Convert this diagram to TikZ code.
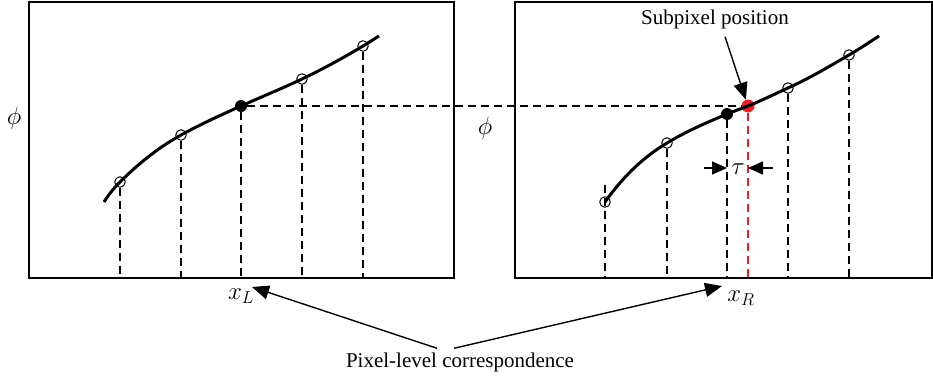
\documentclass[tikz,border=0pt]{standalone}
\usepackage{fontspec}
\setmainfont{Liberation Serif}
\usetikzlibrary{arrows.meta}
\definecolor{subred}{RGB}{232,32,42}

\begin{document}
\begin{tikzpicture}[
        x=1pt, y=-1pt,
        every node/.style={font=\fontsize{21}{25}\selectfont, inner sep=0pt},
        symbol/.style={font=\fontsize{24}{28}\selectfont},
        frame/.style={line width=1.4pt},
        curve/.style={line width=3pt},
        guide/.style={line width=1.2pt, dash pattern=on 8pt off 5pt},
        sample/.style={circle, draw, line width=1pt, minimum size=10.5pt},
        match/.style={circle, fill, minimum size=12pt},
        arrow/.style={line width=1.4pt, -{Triangle[length=17pt, width=14pt]}},
        tauarrow/.style={line width=1.4pt, -{Triangle[length=15pt, width=13pt]}}
    ]
    \useasboundingbox (0,0) rectangle (933,378);

    % Frames
    \draw[frame] (29,2) rectangle (454,278);
    \draw[frame] (515,2) rectangle (932,278);
    \coordinate (base) at (0,278);

    % Left samples
    \node[sample] (l1) at (120,182) {};
    \node[sample] (l2) at (181,135) {};
    \node[match] (l3) at (241,106) {};
    \node[sample] (l4) at (302,79) {};
    \node[sample] (l5) at (363,46) {};
    \coordinate (lstart) at (104,202);
    \coordinate (lend) at (379,36);

    % Right samples
    \node[sample] (r1) at (605,202) {};
    \node[sample] (r2) at (667,143) {};
    \node[match] (r3) at (727,114) {};
    \node[match, fill=subred, minimum size=13pt] (sub) at (748,106) {};
    \node[sample] (r4) at (788,88) {};
    \node[sample] (r5) at (849,55) {};
    \coordinate (rend) at (879,36);

    % Curves
    \draw[curve] (lstart) .. controls (109.3,193.5) and (114.7,187.3) .. (l1.center)
        .. controls (140.3,161.7) and (160.7,146.2) .. (l2.center)
        .. controls (201,124) and (221,115) .. (l3.center)
        .. controls (261.3,96.9) and (281.7,88.7) .. (l4.center)
        .. controls (322.3,69.3) and (342.7,58.2) .. (l5.center)
        .. controls (368.3,42.8) and (373.7,39.3) .. (lend);
    \draw[curve] (r1.center) .. controls (625.7,173) and (646.3,155.4) .. (r2.center)
        .. controls (687,131) and (707,122.4) .. (r3.center)
        .. controls (734,111.1) and (741,108.8) .. (sub.center)
        .. controls (761.3,100.7) and (774.7,94) .. (r4.center)
        .. controls (808.3,78.9) and (828.7,66.8) .. (r5.center)
        .. controls (859,49.2) and (869,42.5) .. (rend);

    % Guides
    \foreach \p in {l1,l2,l3,l4,l5,r2,r3,r4,r5}
        \draw[guide] (\p) -- (\p |- base);
    \draw[guide] (r1) ++(0,-17) -- (r1 |- base);
    \draw[guide, subred] (sub) -- (sub |- base);
    \draw[guide] (l3) -- (sub);

    % Labels
    \node[symbol] (phiL) at (14,118) {$\phi$};
    \node[symbol] (phiR) at (485,128) {$\phi$};
    \node[symbol] (xL) at (241,296) {$x_L$};
    \node[symbol] (xR) at (741,298) {$x_R$};
    \node[symbol] (tau) at (738,169) {$\tau$};
    \node (subtxt) at (715,19) {Subpixel position};
    \node (pixtxt) at (460,362) {Pixel-level correspondence};

    % Arrows
    \coordinate (tauL) at (704,168);
    \coordinate (tauR) at (773,168);
    \draw[tauarrow] (tauL) -- (r3 |- tauL);
    \draw[tauarrow] (tauR) -- (sub |- tauR);
    \draw[arrow] ([shift={(10pt,-8pt)}]subtxt.south) -- (sub);
    \draw[arrow] ([shift={(-23pt,4pt)}]pixtxt.north) -- ([shift={(11pt,9pt)}]xL.center);
    \draw[arrow] ([shift={(-6pt,4pt)}]pixtxt.north) -- ([shift={(-19pt,12pt)}]xR.center);
\end{tikzpicture}
\end{document}
